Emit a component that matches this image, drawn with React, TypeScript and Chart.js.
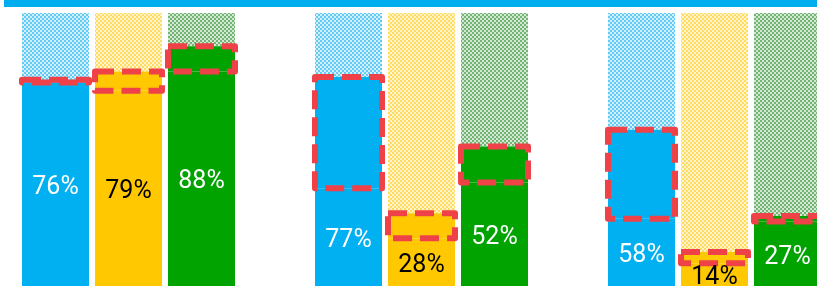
import React, { useEffect, useRef } from 'react';
import { Chart, registerables } from 'chart.js';

Chart.register(...registerables);

// ---- data ----
const categories = ['Group A', 'Group B', 'Group C'];
const seriesNames = ['Blue', 'Yellow', 'Green'];
const blueValues = [76, 77, 58];
const yellowValues = [79, 28, 14];
const greenValues = [88, 52, 27];
// lower edge of the highlighted (red dashed) segment
const blueBase = [75, 37, 26];
const yellowBase = [72, 19, 10];
const greenBase = [79, 39, 25];
const maxValue = 100;

const allValues = [blueValues, yellowValues, greenValues];
const allBases = [blueBase, yellowBase, greenBase];

const SOLID = ['#00B0F0', '#FFC800', '#00A300'];
const LABEL_COLORS = ['#FFFFFF', '#000000', '#FFFFFF'];
const PATTERN_TONES = [
  { light: '#D2F1FD', dark: '#62CAF3' },
  { light: '#FFF4CC', dark: '#FFDC60' },
  { light: '#D3E8D3', dark: '#74B474' },
];

function makePattern(t: { light: string; dark: string }) {
  const c = document.createElement('canvas');
  c.width = 4;
  c.height = 4;
  const g = c.getContext('2d')!;
  g.fillStyle = t.dark;
  g.fillRect(0, 0, 4, 4);
  g.fillStyle = t.light;
  g.fillRect(0, 0, 2, 2);
  g.fillRect(2, 2, 2, 2);
  return g.createPattern(c, 'repeat') as CanvasPattern;
}

const overlayPlugin = {
  id: 'overlayPlugin',
  afterDatasetsDraw(chart: any) {
    const ctx = chart.ctx as CanvasRenderingContext2D;
    ctx.save();
    // red dashed highlight rectangles
    for (let s = 0; s < 3; s++) {
      const meta = chart.getDatasetMeta(s * 3 + 1);
      meta.data.forEach((el: any) => {
        const { x, y, base, width } = el.getProps(['x', 'y', 'base', 'width'], true);
        ctx.strokeStyle = '#EF4248';
        ctx.lineWidth = 6;
        ctx.setLineDash([19, 8]);
        ctx.lineJoin = 'round';
        ctx.lineCap = 'butt';
        ctx.strokeRect(x - width / 2, y, width, base - y);
      });
    }
    ctx.setLineDash([]);
    // value labels centred in the base segment
    ctx.font = '25px Roboto';
    ctx.textAlign = 'center';
    ctx.textBaseline = 'middle';
    for (let s = 0; s < 3; s++) {
      const meta = chart.getDatasetMeta(s * 3);
      meta.data.forEach((el: any, i: number) => {
        const { x, y, base } = el.getProps(['x', 'y', 'base'], true);
        ctx.fillStyle = LABEL_COLORS[s];
        ctx.fillText(allValues[s][i] + '%', x, (y + base) / 2 + 1);
      });
    }
    ctx.restore();
  },
};

export default function App() {
  const ref = useRef<HTMLCanvasElement>(null);

  useEffect(() => {
    document.body.style.margin = '0';
    const datasets: any[] = [];
    for (let s = 0; s < 3; s++) {
      const vals = allValues[s];
      const bases = allBases[s];
      const pattern = makePattern(PATTERN_TONES[s]);
      datasets.push({
        label: seriesNames[s] + ' base',
        stack: seriesNames[s],
        data: bases,
        backgroundColor: SOLID[s],
        borderWidth: 0,
      });
      datasets.push({
        label: seriesNames[s] + ' change',
        stack: seriesNames[s],
        data: vals.map((v, i) => v - bases[i]),
        backgroundColor: SOLID[s],
        borderWidth: 0,
      });
      datasets.push({
        label: seriesNames[s] + ' rest',
        stack: seriesNames[s],
        data: vals.map((v) => maxValue - v),
        backgroundColor: pattern,
        borderWidth: 0,
      });
    }
    const chart = new Chart(ref.current!, {
      type: 'bar',
      data: { labels: categories, datasets },
      options: {
        responsive: false,
        animation: false,
        layout: { padding: { top: 13, bottom: 5, left: 0, right: 0 } },
        datasets: {
          bar: { categoryPercentage: 0.7474, barPercentage: 0.918 },
        } as any,
        plugins: { legend: { display: false }, tooltip: { enabled: false }, title: { display: false } },
        scales: {
          x: { stacked: true, display: false },
          y: { stacked: true, display: false, min: 0, max: maxValue },
        },
      },
      plugins: [overlayPlugin],
    });
    return () => chart.destroy();
  }, []);

  return (
    <div
      style={{
        position: 'fixed',
        left: 0,
        top: 0,
        width: 817,
        height: 286,
        overflow: 'hidden',
        background: '#FFFFFF',
      }}
    >
      <canvas
        ref={ref}
        width={879}
        height={296}
        style={{ position: 'absolute', left: -18, top: 0, width: 879, height: 296 }}
      />
      <div
        style={{
          position: 'absolute',
          left: 4,
          top: 0,
          width: 813,
          height: 7,
          background: '#00AEEF',
        }}
      />
    </div>
  );
}
